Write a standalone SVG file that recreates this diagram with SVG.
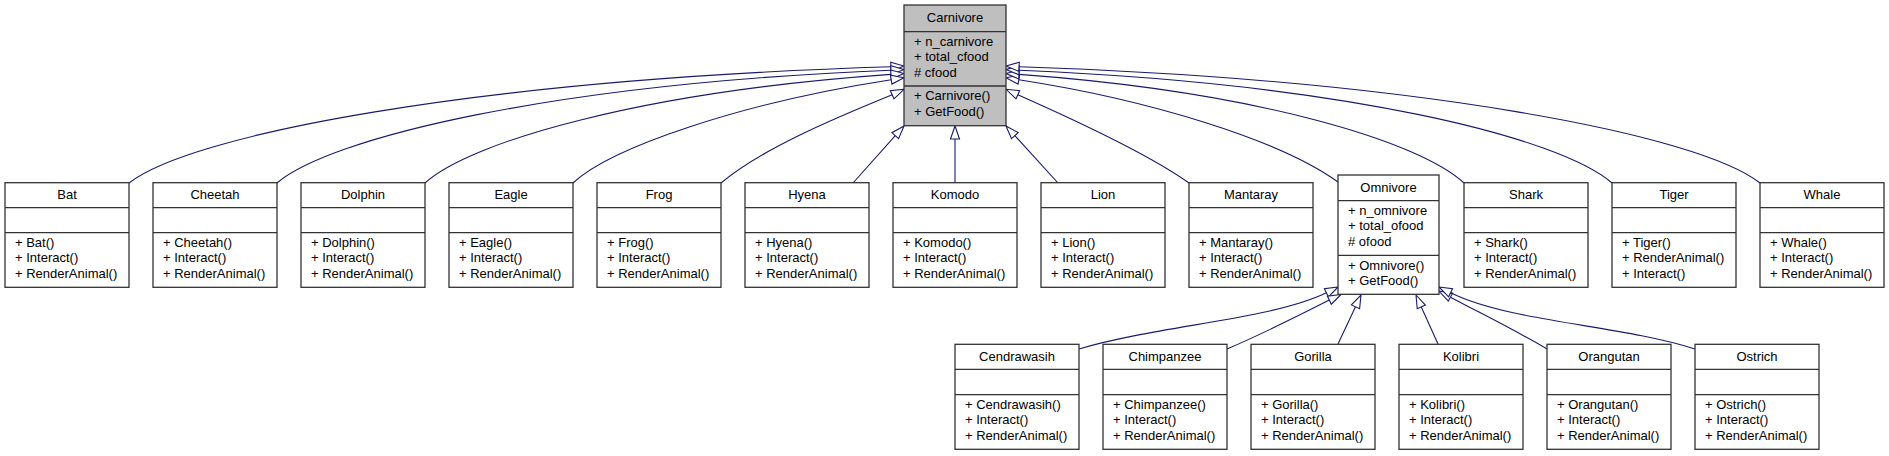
<svg xmlns="http://www.w3.org/2000/svg" width="1889" height="456" viewBox="0 0 1889 456">
<style>
.box{fill:#ffffff;stroke:#333333;stroke-width:1.3}
.main{fill:#bfbfbf;stroke:#333333;stroke-width:1.3}
.sep{stroke:#333333;stroke-width:1.3}
text{font-family:"Liberation Sans",Arial,sans-serif;font-size:13px;fill:#000000}
.t{text-anchor:middle}
.edge{fill:none;stroke:#191970;stroke-width:1.1}
.head{fill:#ffffff;stroke:#191970;stroke-width:1.1}
</style>
<rect width="1889" height="456" fill="#ffffff"/>
<g id="connectors">
<path class="edge" d="M129,183 C190,135 470,80 891,66.8"/><polygon class="head" points="904,66 891.3,71.3 890.7,62.3"/>
<path class="edge" d="M277,183 C330,138 550,84 891,70.3"/><polygon class="head" points="904,69.5 891.2,74.8 890.8,65.8"/>
<path class="edge" d="M425,183 C470,142 640,92 891,74.4"/><polygon class="head" points="904,73.5 891.3,78.9 890.7,69.9"/>
<path class="edge" d="M573,183 C610,148 740,103 891.2,79.7"/><polygon class="head" points="904,77.7 891.9,84.1 890.5,75.2"/>
<path class="edge" d="M721,183 C760,150 830,120 892.2,94.7"/><polygon class="head" points="904,89.3 894,98.8 890.3,90.6"/>
<path class="edge" d="M853,183 L895.3,135.7"/><polygon class="head" points="904,126 898.6,138.7 891.9,132.7"/>
<path class="edge" d="M955,183 L955,139"/><polygon class="head" points="955,126 959.5,139 950.5,139"/>
<path class="edge" d="M1058,183 L1014.8,135.6"/><polygon class="head" points="1006,126 1018.1,132.6 1011.5,138.6"/>
<path class="edge" d="M1189,183 C1150,155 1075,120 1017.8,94.7"/><polygon class="head" points="1006,89.3 1019.7,90.6 1016,98.8"/>
<path class="edge" d="M1338,182 C1280,140 1150,100 1018.8,79.7"/><polygon class="head" points="1006,77.7 1019.5,75.2 1018.1,84.1"/>
<path class="edge" d="M1464,183 C1420,142 1260,92 1019,74.4"/><polygon class="head" points="1006,73.5 1019.3,69.9 1018.7,78.9"/>
<path class="edge" d="M1612,183 C1560,138 1350,84 1019,70.3"/><polygon class="head" points="1006,69.5 1019.2,65.8 1018.8,74.8"/>
<path class="edge" d="M1760,183 C1700,135 1420,80 1019,66.8"/><polygon class="head" points="1006,66 1019.3,62.3 1018.7,71.3"/>
<path class="edge" d="M1079,349 C1160,325 1270,320 1326.4,292.8"/><polygon class="head" points="1338,287 1328.4,296.8 1324.4,288.8"/>
<path class="edge" d="M1227,349 C1260,335 1300,315 1329.3,300.1"/><polygon class="head" points="1341,294.5 1331.3,304.2 1327.4,296.1"/>
<path class="edge" d="M1338,344 L1355.5,306.8"/><polygon class="head" points="1361,295 1359.6,308.7 1351.4,304.9"/>
<path class="edge" d="M1438,344 L1421.3,306.9"/><polygon class="head" points="1416,295 1425.4,305.1 1417.2,308.8"/>
<path class="edge" d="M1547,349 C1515,330 1480,313 1450.5,297.2"/><polygon class="head" points="1439,291 1452.6,293.2 1448.3,301.1"/>
<path class="edge" d="M1695,349 C1620,325 1510,322 1450.6,292.8"/><polygon class="head" points="1439,287 1452.6,288.8 1448.6,296.8"/>
</g>
<g id="Carnivore">
<rect class="main" x="904" y="5" width="102" height="120.7"/>
<line class="sep" x1="904" y1="31.7" x2="1006" y2="31.7"/><line class="sep" x1="904" y1="86" x2="1006" y2="86"/>
<text class="t" x="955" y="21.7">Carnivore</text>
<text x="914" y="46">+ n_carnivore</text><text x="914" y="61.3">+ total_cfood</text><text x="914" y="76.6"># cfood</text>
<text x="914" y="100.3">+ Carnivore()</text><text x="914" y="115.6">+ GetFood()</text>
</g>
<g id="Bat">
<rect class="box" x="5" y="182.7" width="124" height="104.6"/>
<line class="sep" x1="5" y1="207.7" x2="129" y2="207.7"/><line class="sep" x1="5" y1="232.7" x2="129" y2="232.7"/>
<text class="t" x="67" y="199.4">Bat</text>
<text x="15" y="247">+ Bat()</text><text x="15" y="262.3">+ Interact()</text><text x="15" y="277.6">+ RenderAnimal()</text>
</g>
<g id="Cheetah">
<rect class="box" x="153" y="182.7" width="124" height="104.6"/>
<line class="sep" x1="153" y1="207.7" x2="277" y2="207.7"/><line class="sep" x1="153" y1="232.7" x2="277" y2="232.7"/>
<text class="t" x="215" y="199.4">Cheetah</text>
<text x="163" y="247">+ Cheetah()</text><text x="163" y="262.3">+ Interact()</text><text x="163" y="277.6">+ RenderAnimal()</text>
</g>
<g id="Dolphin">
<rect class="box" x="301" y="182.7" width="124" height="104.6"/>
<line class="sep" x1="301" y1="207.7" x2="425" y2="207.7"/><line class="sep" x1="301" y1="232.7" x2="425" y2="232.7"/>
<text class="t" x="363" y="199.4">Dolphin</text>
<text x="311" y="247">+ Dolphin()</text><text x="311" y="262.3">+ Interact()</text><text x="311" y="277.6">+ RenderAnimal()</text>
</g>
<g id="Eagle">
<rect class="box" x="449" y="182.7" width="124" height="104.6"/>
<line class="sep" x1="449" y1="207.7" x2="573" y2="207.7"/><line class="sep" x1="449" y1="232.7" x2="573" y2="232.7"/>
<text class="t" x="511" y="199.4">Eagle</text>
<text x="459" y="247">+ Eagle()</text><text x="459" y="262.3">+ Interact()</text><text x="459" y="277.6">+ RenderAnimal()</text>
</g>
<g id="Frog">
<rect class="box" x="597" y="182.7" width="124" height="104.6"/>
<line class="sep" x1="597" y1="207.7" x2="721" y2="207.7"/><line class="sep" x1="597" y1="232.7" x2="721" y2="232.7"/>
<text class="t" x="659" y="199.4">Frog</text>
<text x="607" y="247">+ Frog()</text><text x="607" y="262.3">+ Interact()</text><text x="607" y="277.6">+ RenderAnimal()</text>
</g>
<g id="Hyena">
<rect class="box" x="745" y="182.7" width="124" height="104.6"/>
<line class="sep" x1="745" y1="207.7" x2="869" y2="207.7"/><line class="sep" x1="745" y1="232.7" x2="869" y2="232.7"/>
<text class="t" x="807" y="199.4">Hyena</text>
<text x="755" y="247">+ Hyena()</text><text x="755" y="262.3">+ Interact()</text><text x="755" y="277.6">+ RenderAnimal()</text>
</g>
<g id="Komodo">
<rect class="box" x="893" y="182.7" width="124" height="104.6"/>
<line class="sep" x1="893" y1="207.7" x2="1017" y2="207.7"/><line class="sep" x1="893" y1="232.7" x2="1017" y2="232.7"/>
<text class="t" x="955" y="199.4">Komodo</text>
<text x="903" y="247">+ Komodo()</text><text x="903" y="262.3">+ Interact()</text><text x="903" y="277.6">+ RenderAnimal()</text>
</g>
<g id="Lion">
<rect class="box" x="1041" y="182.7" width="124" height="104.6"/>
<line class="sep" x1="1041" y1="207.7" x2="1165" y2="207.7"/><line class="sep" x1="1041" y1="232.7" x2="1165" y2="232.7"/>
<text class="t" x="1103" y="199.4">Lion</text>
<text x="1051" y="247">+ Lion()</text><text x="1051" y="262.3">+ Interact()</text><text x="1051" y="277.6">+ RenderAnimal()</text>
</g>
<g id="Mantaray">
<rect class="box" x="1189" y="182.7" width="124" height="104.6"/>
<line class="sep" x1="1189" y1="207.7" x2="1313" y2="207.7"/><line class="sep" x1="1189" y1="232.7" x2="1313" y2="232.7"/>
<text class="t" x="1251" y="199.4">Mantaray</text>
<text x="1199" y="247">+ Mantaray()</text><text x="1199" y="262.3">+ Interact()</text><text x="1199" y="277.6">+ RenderAnimal()</text>
</g>
<g id="Omnivore">
<rect class="box" x="1338" y="175" width="101" height="119.3"/>
<line class="sep" x1="1338" y1="200.7" x2="1439" y2="200.7"/><line class="sep" x1="1338" y1="255.3" x2="1439" y2="255.3"/>
<text class="t" x="1388.5" y="191.7">Omnivore</text>
<text x="1348" y="215">+ n_omnivore</text><text x="1348" y="230.3">+ total_ofood</text><text x="1348" y="245.6"># ofood</text>
<text x="1348" y="269.6">+ Omnivore()</text><text x="1348" y="284.9">+ GetFood()</text>
</g>
<g id="Shark">
<rect class="box" x="1464" y="182.7" width="124" height="104.6"/>
<line class="sep" x1="1464" y1="207.7" x2="1588" y2="207.7"/><line class="sep" x1="1464" y1="232.7" x2="1588" y2="232.7"/>
<text class="t" x="1526" y="199.4">Shark</text>
<text x="1474" y="247">+ Shark()</text><text x="1474" y="262.3">+ Interact()</text><text x="1474" y="277.6">+ RenderAnimal()</text>
</g>
<g id="Tiger">
<rect class="box" x="1612" y="182.7" width="124" height="104.6"/>
<line class="sep" x1="1612" y1="207.7" x2="1736" y2="207.7"/><line class="sep" x1="1612" y1="232.7" x2="1736" y2="232.7"/>
<text class="t" x="1674" y="199.4">Tiger</text>
<text x="1622" y="247">+ Tiger()</text><text x="1622" y="262.3">+ RenderAnimal()</text><text x="1622" y="277.6">+ Interact()</text>
</g>
<g id="Whale">
<rect class="box" x="1760" y="182.7" width="124" height="104.6"/>
<line class="sep" x1="1760" y1="207.7" x2="1884" y2="207.7"/><line class="sep" x1="1760" y1="232.7" x2="1884" y2="232.7"/>
<text class="t" x="1822" y="199.4">Whale</text>
<text x="1770" y="247">+ Whale()</text><text x="1770" y="262.3">+ Interact()</text><text x="1770" y="277.6">+ RenderAnimal()</text>
</g>
<g id="Cendrawasih">
<rect class="box" x="955" y="344.3" width="124" height="105"/>
<line class="sep" x1="955" y1="369.3" x2="1079" y2="369.3"/><line class="sep" x1="955" y1="394.7" x2="1079" y2="394.7"/>
<text class="t" x="1017" y="361">Cendrawasih</text>
<text x="965" y="409">+ Cendrawasih()</text><text x="965" y="424.3">+ Interact()</text><text x="965" y="439.6">+ RenderAnimal()</text>
</g>
<g id="Chimpanzee">
<rect class="box" x="1103" y="344.3" width="124" height="105"/>
<line class="sep" x1="1103" y1="369.3" x2="1227" y2="369.3"/><line class="sep" x1="1103" y1="394.7" x2="1227" y2="394.7"/>
<text class="t" x="1165" y="361">Chimpanzee</text>
<text x="1113" y="409">+ Chimpanzee()</text><text x="1113" y="424.3">+ Interact()</text><text x="1113" y="439.6">+ RenderAnimal()</text>
</g>
<g id="Gorilla">
<rect class="box" x="1251" y="344.3" width="124" height="105"/>
<line class="sep" x1="1251" y1="369.3" x2="1375" y2="369.3"/><line class="sep" x1="1251" y1="394.7" x2="1375" y2="394.7"/>
<text class="t" x="1313" y="361">Gorilla</text>
<text x="1261" y="409">+ Gorilla()</text><text x="1261" y="424.3">+ Interact()</text><text x="1261" y="439.6">+ RenderAnimal()</text>
</g>
<g id="Kolibri">
<rect class="box" x="1399" y="344.3" width="124" height="105"/>
<line class="sep" x1="1399" y1="369.3" x2="1523" y2="369.3"/><line class="sep" x1="1399" y1="394.7" x2="1523" y2="394.7"/>
<text class="t" x="1461" y="361">Kolibri</text>
<text x="1409" y="409">+ Kolibri()</text><text x="1409" y="424.3">+ Interact()</text><text x="1409" y="439.6">+ RenderAnimal()</text>
</g>
<g id="Orangutan">
<rect class="box" x="1547" y="344.3" width="124" height="105"/>
<line class="sep" x1="1547" y1="369.3" x2="1671" y2="369.3"/><line class="sep" x1="1547" y1="394.7" x2="1671" y2="394.7"/>
<text class="t" x="1609" y="361">Orangutan</text>
<text x="1557" y="409">+ Orangutan()</text><text x="1557" y="424.3">+ Interact()</text><text x="1557" y="439.6">+ RenderAnimal()</text>
</g>
<g id="Ostrich">
<rect class="box" x="1695" y="344.3" width="124" height="105"/>
<line class="sep" x1="1695" y1="369.3" x2="1819" y2="369.3"/><line class="sep" x1="1695" y1="394.7" x2="1819" y2="394.7"/>
<text class="t" x="1757" y="361">Ostrich</text>
<text x="1705" y="409">+ Ostrich()</text><text x="1705" y="424.3">+ Interact()</text><text x="1705" y="439.6">+ RenderAnimal()</text>
</g>
</svg>
